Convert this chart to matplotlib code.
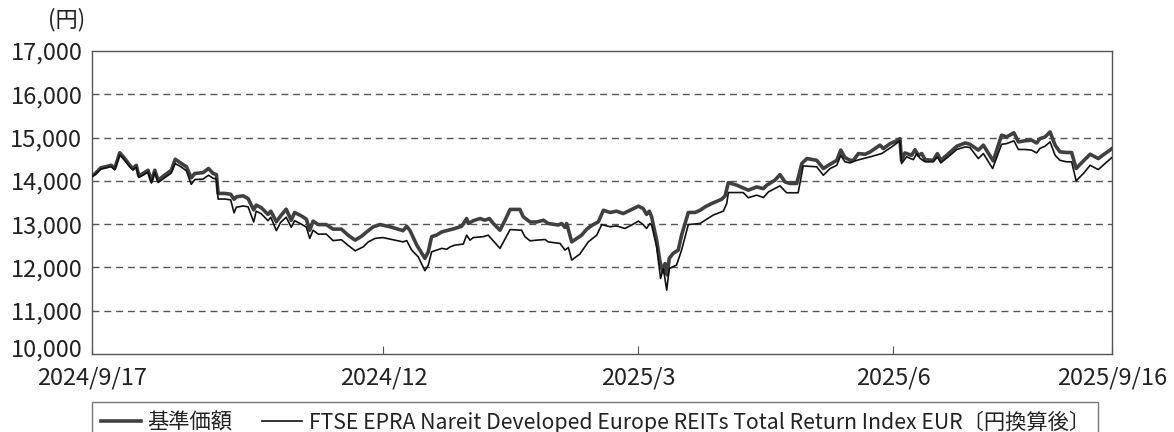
import matplotlib
matplotlib.use('Agg')
import matplotlib.pyplot as plt
import matplotlib.transforms as mtransforms
import numpy as np
import pandas as pd

plt.rcParams['font.family'] = ['Noto Sans CJK JP', 'DejaVu Sans']

start = pd.Timestamp('2024-09-17')

# days since 2024/9/17 and values (yen)
fund_days = [0, 1.2, 3.1, 5.1, 6.9, 8.1, 9.9, 11.7, 13.5, 14.6, 15.8, 16.7, 18.2, 20.0, 21.2, 22.4, 23.6, 25.9,
             28.3, 29.7, 31.9, 33.7, 35.4, 36.7, 39.6, 41.6, 43.2, 44.4, 45.0, 47.4, 49.5, 50.7, 51.5, 53.9, 55.7,
             57.7, 58.6, 60.4, 62.8, 63.8, 65.8, 67.3, 69.3, 71.1, 72.3, 74.7, 76.5, 77.7, 78.9, 80.7, 83.6, 86.0,
             89.0, 91.4, 93.9, 96.2, 98.0, 100.4, 102.8, 106.3, 111.0, 112.3, 113.5, 115.9, 118.8, 120.0, 121.2,
             123.0, 124.8, 127.2, 129.5, 131.9, 133.7, 134.3, 136.1, 138.5, 140.2, 141.8, 143.2, 145.6, 147.4,
             149.2, 152.7, 153.9, 156.3, 158.7, 161.1, 162.8, 166.4, 167.6, 168.8, 169.4, 171.2, 173.0, 174.8,
             176.5, 177.7, 178.9, 180.7, 182.5, 184.9, 187.2, 189.6, 192.0, 195.0, 196.7, 197.9, 198.9, 199.7,
             201.5, 202.7, 203.7, 204.5, 205.3, 206.0, 207.4, 209.2, 210.4, 212.8, 215.2, 217.0, 218.8, 221.1,
             224.7, 225.9, 227.1, 230.1, 233.0, 234.2, 237.2, 239.6, 240.8, 243.7, 245.5, 247.3, 249.1, 251.5,
             253.3, 255.1, 258.6, 261.0, 262.8, 265.8, 267.2, 268.7, 270.5, 271.7, 273.5, 275.9, 277.7, 281.2,
             282.4, 284.8, 287.7, 288.3, 288.9, 290.1, 292.5, 293.7, 294.9, 296.1, 297.3, 300.2, 301.7, 302.9,
             305.0, 308.6, 311.6, 313.3, 316.3, 318.1, 321.6, 324.6, 326.4, 329.0, 330.6, 332.9, 335.3, 337.1,
             338.3, 340.1, 341.9, 343.7, 345.4, 347.8, 349.6, 351.2, 353.8, 356.2, 359.1, 361.5, 364.0]
fund = [14115, 14170, 14300, 14330, 14360, 14285, 14650, 14515, 14360, 14285, 14360, 14115, 14170, 14245, 13990,
        14245, 14015, 14130, 14245, 14500, 14400, 14325, 14070, 14170, 14190, 14285, 14170, 14145, 13710, 13710,
        13690, 13575, 13630, 13655, 13590, 13330, 13440, 13380, 13225, 13300, 13055, 13190, 13345, 13090, 13270,
        13190, 13115, 12860, 13070, 12990, 12990, 12885, 12885, 12745, 12630, 12720, 12820, 12940, 12990, 12940,
        12850, 12950, 12850, 12515, 12210, 12360, 12710, 12750, 12820, 12860, 12900, 12950, 13130, 13015, 13080,
        13130, 13090, 13130, 13015, 12860, 13090, 13340, 13340, 13170, 13050, 13050, 13090, 13015, 12980, 13015,
        12925, 13015, 12590, 12670, 12750, 12880, 12940, 12990, 13055, 13320, 13270, 13300, 13245, 13320, 13415,
        13360, 13225, 13300, 13170, 12630, 12130, 11900, 12090, 11825, 12210, 12325, 12400, 12745, 13270, 13270,
        13320, 13400, 13475, 13575, 13650, 13960, 13900, 13820, 13785, 13860, 13820, 13900, 14015, 14145, 13975,
        13940, 13940, 14400, 14515, 14475, 14285, 14360, 14475, 14710, 14540, 14475, 14475, 14630, 14615, 14670,
        14825, 14745, 14860, 14940, 14975, 14475, 14645, 14590, 14720, 14590, 14630, 14490, 14475, 14630, 14475,
        14590, 14800, 14875, 14845, 14710, 14825, 14460, 15055, 15015, 15110, 14900, 14925, 14940, 14875, 14975,
        15015, 15130, 14825, 14670, 14655, 14655, 14285, 14460, 14615, 14515, 14630, 14745]

bench_days = [0, 1.2, 3.1, 5.1, 6.9, 8.1, 9.9, 11.7, 13.5, 14.6, 15.8, 16.7, 18.2, 20.0, 21.2, 22.4, 23.6, 25.9,
              28.3, 29.7, 31.9, 33.7, 35.4, 36.7, 39.6, 41.6, 43.2, 44.4, 45.0, 47.4, 49.5, 50.7, 51.5, 53.9, 55.7,
              57.7, 58.6, 60.4, 62.8, 63.8, 65.8, 67.3, 69.3, 71.1, 72.3, 74.7, 76.5, 77.7, 78.9, 80.7, 83.6, 86.0,
              89.0, 91.4, 93.9, 96.8, 98.6, 101.0, 103.8, 107.0, 111.0, 112.3, 114.1, 116.4, 118.8, 120.0, 121.2,
              123.0, 124.8, 126.6, 127.8, 129.5, 132.5, 133.7, 134.9, 136.1, 139.6, 141.4, 143.8, 145.6, 149.2,
              153.3, 154.5, 156.3, 158.7, 161.7, 162.8, 167.0, 168.8, 170.0, 171.2, 174.1, 177.1, 180.1, 181.9,
              184.9, 187.2, 190.2, 192.6, 195.0, 196.7, 197.9, 199.1, 199.7, 201.5, 202.9, 203.9, 205.1, 206.0,
              208.6, 210.4, 212.8, 217.0, 218.8, 221.7, 225.3, 226.5, 227.1, 232.4, 234.2, 237.2, 239.6, 241.4,
              245.5, 247.9, 252.0, 253.8, 258.6, 261.0, 263.4, 265.8, 267.2, 268.7, 270.5, 272.9, 275.3, 277.7,
              281.8, 285.4, 288.3, 288.9, 290.7, 293.1, 294.3, 295.5, 297.3, 300.2, 301.7, 302.9, 306.2, 308.6,
              311.6, 313.3, 316.3, 318.1, 321.4, 324.6, 326.4, 329.0, 330.6, 332.9, 335.3, 337.1, 338.3, 340.1,
              341.9, 343.7, 345.4, 347.8, 349.6, 351.2, 353.8, 356.2, 359.1, 361.5, 364.0]
bench = [14100, 14150, 14270, 14300, 14330, 14255, 14600, 14470, 14320, 14250, 14320, 14080, 14130, 14200, 13950,
         14200, 13960, 14070, 14180, 14400, 14320, 14230, 13920, 14030, 14040, 14130, 14060, 14040, 13580, 13580,
         13560, 13260, 13390, 13420, 13400, 13050, 13300, 13240, 13080, 13160, 12850, 13040, 13160, 12930, 13080,
         13000, 12930, 12670, 12860, 12770, 12770, 12620, 12640, 12510, 12385, 12475, 12590, 12670, 12690, 12645,
         12590, 12620, 12400, 12245, 11925, 12050, 12360, 12400, 12440, 12420, 12475, 12515, 12540, 12745, 12630,
         12690, 12710, 12745, 12570, 12440, 12875, 12860, 12710, 12615, 12630, 12645, 12590, 12555, 12400, 12460,
         12170, 12310, 12590, 12745, 12990, 12940, 12960, 12900, 12980, 13070, 12990, 12900, 13015, 12980, 12475,
         11745, 11975, 11475, 11975, 12055, 12400, 12990, 13015, 13090, 13210, 13300, 13475, 13730, 13730, 13610,
         13670, 13615, 13745, 13885, 13725, 13725, 14345, 14325, 14130, 14285, 14360, 14590, 14440, 14415, 14475,
         14515, 14555, 14630, 14785, 14925, 14400, 14555, 14490, 14630, 14520, 14440, 14440, 14550, 14415, 14590,
         14725, 14785, 14770, 14515, 14630, 14285, 14845, 14860, 14925, 14725, 14725, 14710, 14645, 14750, 14800,
         14900, 14590, 14475, 14440, 14440, 14000, 14170, 14360, 14260, 14400, 14540]

tick_dates = ['2024-09-17', '2024-12-30', '2025-03-31', '2025-06-30', '2025-09-16']
tick_labels = ['2024/9/17', '2024/12', '2025/3', '2025/6', '2025/9/16']
y_ticks = [10000, 11000, 12000, 13000, 14000, 15000, 16000, 17000]

fund_x = start + pd.to_timedelta(fund_days, unit='D')
bench_x = start + pd.to_timedelta(bench_days, unit='D')

fig = plt.figure(figsize=(11.74, 4.32), dpi=100)
ax = fig.add_axes([92 / 1174, 1 - 354 / 432, 1020 / 1174, 303 / 432])

for v in y_ticks[1:-1]:
    ax.axhline(v, color='#555555', lw=1.0, ls=(0, (5, 3.5)), zorder=1)

l1, = ax.plot(fund_x, fund, color='#404040', lw=2.6, label='基準価額', zorder=3)
l2, = ax.plot(bench_x, bench, color='#111111', lw=1.2,
              label='FTSE EPRA Nareit Developed Europe REITs Total Return Index EUR〔円換算後〕', zorder=4)

ax.set_xlim(pd.Timestamp(tick_dates[0]), pd.Timestamp(tick_dates[-1]))
ax.set_ylim(10000, 17000)
ax.set_yticks(y_ticks)
ax.set_yticklabels([f'{v:,}' for v in y_ticks])
ax.set_xticks(pd.to_datetime(tick_dates))
ax.set_xticklabels(tick_labels)
ax.tick_params(axis='y', length=0, pad=7, labelsize=17, labelcolor='#222222')
ax.tick_params(axis='x', direction='in', length=6, width=0.8, color='#555555', pad=9,
               labelsize=17, labelcolor='#222222')
for s in ax.spines.values():
    s.set_color('#555555')
    s.set_linewidth(1.0)

# lift the bottom y label a little so it clears the first date label
lab0 = ax.get_yticklabels()[0]
lab0.set_transform(lab0.get_transform() + mtransforms.ScaledTranslation(0, 6 / 100, fig.dpi_scale_trans))

fig.text(67 / 1174, 1 - 20 / 432, '(円)', ha='center', va='center', fontsize=16, color='#222222')

leg = fig.legend(handles=[l1, l2], loc='upper left', bbox_to_anchor=(92 / 1174, 1 - 402 / 432), ncol=2,
                 fontsize=15.3, frameon=True, fancybox=False, borderaxespad=0, borderpad=0.4,
                 handlelength=1.9, handletextpad=0.3, columnspacing=1.4)
leg.get_frame().set_edgecolor('#555555')
leg.get_frame().set_linewidth(1.0)
for t in leg.get_texts():
    t.set_color('#222222')

fig.savefig('out.png', dpi=100)
